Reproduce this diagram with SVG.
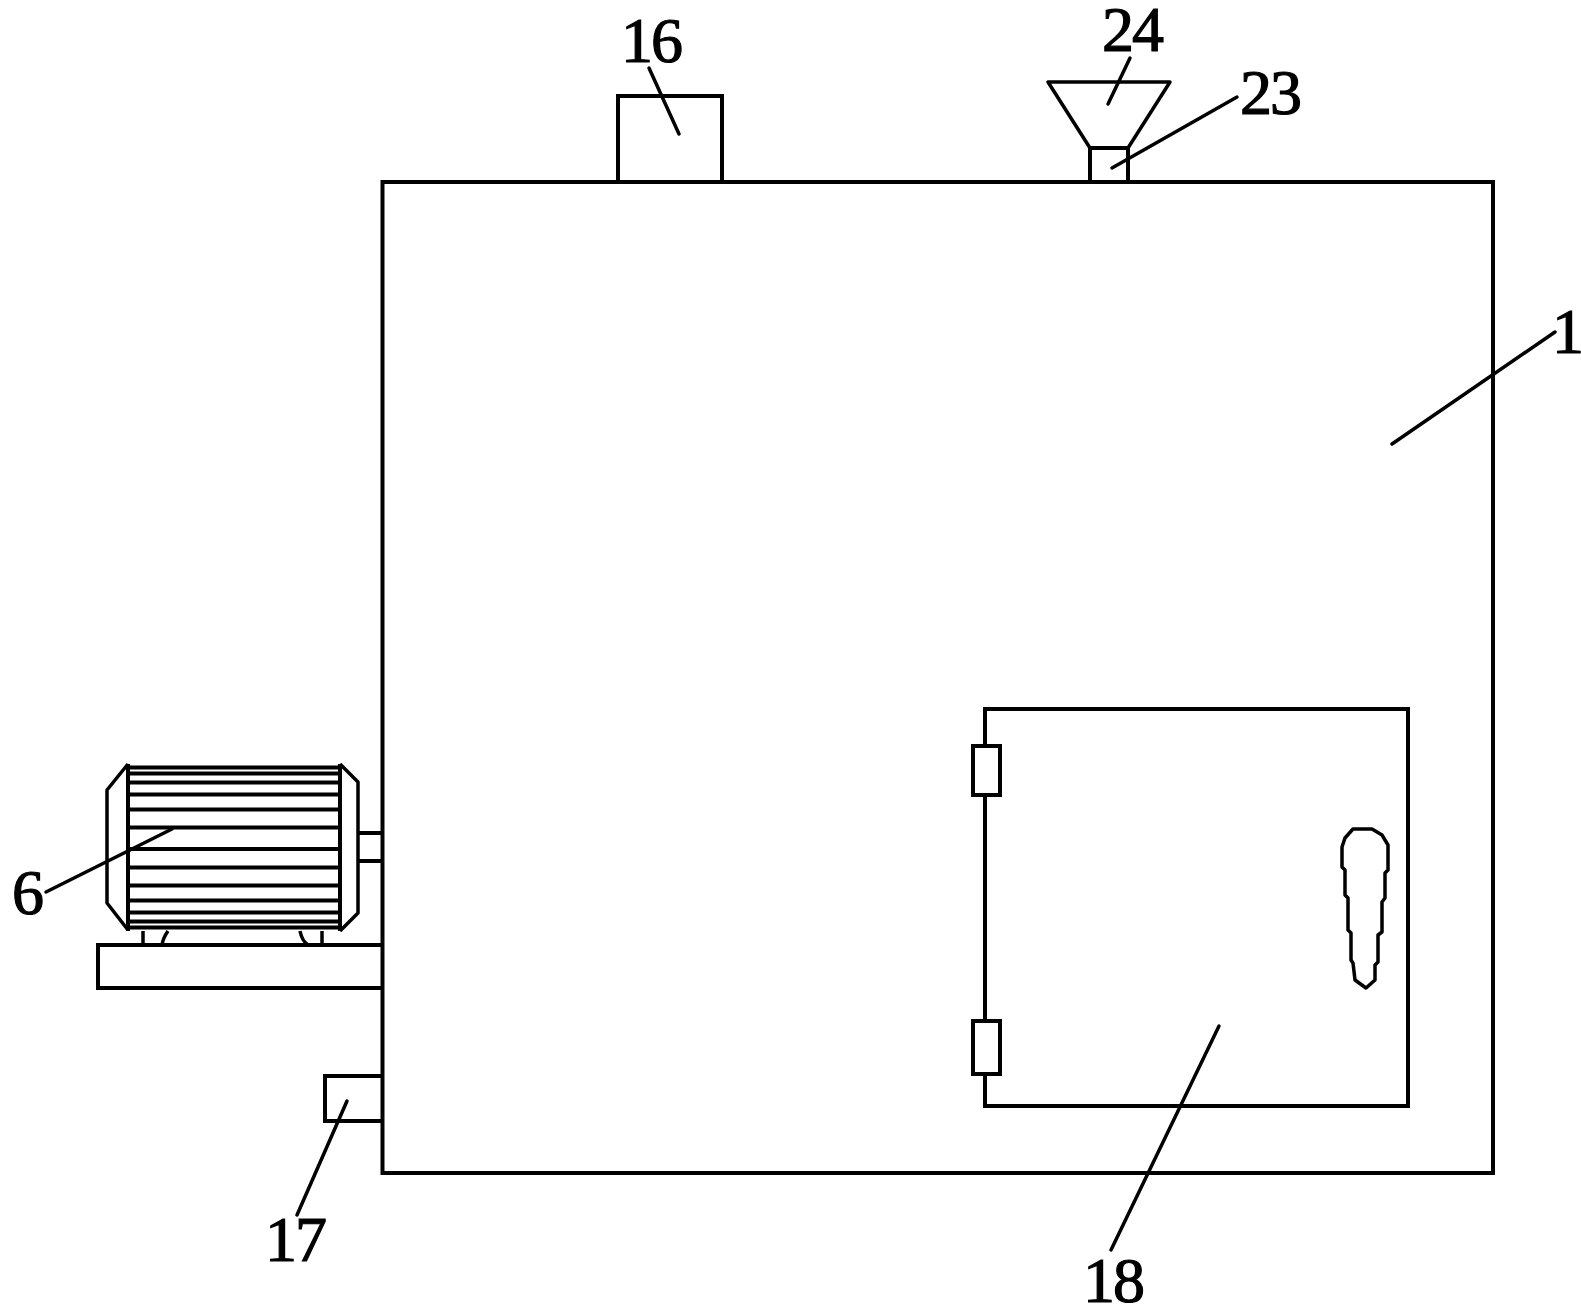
<svg xmlns="http://www.w3.org/2000/svg" width="1581" height="1310" viewBox="0 0 1581 1310">
<style>
.s{fill:none;stroke:#000;stroke-width:4}
.t{fill:none;stroke:#000;stroke-width:3.5;stroke-linejoin:round}
.l{fill:none;stroke:#000;stroke-width:3.5;stroke-linecap:round}
text{font-family:"Liberation Serif",serif;font-size:64px;letter-spacing:-2px;fill:#000;text-anchor:middle;stroke:#000;stroke-width:1.2}
</style>
<rect width="1581" height="1310" fill="#fff"/>
<g id="body"><rect class="s" x="382.500" y="182" width="1110.500" height="991"/></g>
<g id="part16"><path class="s" d="M618 182V96H722V182"/></g>
<g id="part23"><path class="s" d="M1090 182V148H1128V182"/></g>
<g id="part24"><path class="t" d="M1048 82H1170L1128 148H1090Z"/></g>
<g id="motor6">
<path class="t" d="M128 764L107 790V903L128 930M340 764L358 782V913L340 931"/>
<path class="s" d="M128 764V931M340 764V931"/>
<path class="s" d="M128 767.500H340M128 773.500H340M128 782.500H340M128 794.500H340M128 809.500H340M128 827.500H340M128 849H340M128 867.500H340M128 885.500H340M128 900.500H340M128 912.500H340M128 921.500H340M128 927.500H340"/>
<path class="t" d="M143 931V945M168 931Q163 938 162 945M300 931Q302 941 308 945M322 931V945"/>
<path class="s" d="M358 833H383M358 861H383"/>
</g>
<g id="base"><path class="s" d="M383 945H98V988H383"/></g>
<g id="part17"><path class="s" d="M383 1076H325V1121H383"/></g>
<g id="door18">
<path class="s" d="M985 746V709H1408V1106H985V1074M985 795V1021"/>
<rect class="s" x="973" y="746" width="27" height="49"/>
<rect class="s" x="973" y="1021" width="27" height="53"/>
<path class="t" d="M1353 829H1372L1382 835L1388 845V870L1385 873V898L1382 902V932L1378 935V962L1375 965V980L1366 988L1355 980L1353 963L1351 960V933L1348 930V898L1345 895V870L1342 867V847L1345 838Z"/>
</g>
<g id="connectors">
<path class="l" d="M649 68L679 134"/>
<path class="l" d="M1130 58L1108 104"/>
<path class="l" d="M1237 97L1112 168"/>
<path class="l" d="M1392 444L1555 332"/>
<path class="l" d="M46 892L172 829"/>
<path class="l" d="M347 1101L297 1215"/>
<path class="l" d="M1219 1026L1111 1250"/>
</g>
<g id="labels">
<text x="651" y="62">16</text>
<text x="1132" y="51">24</text>
<text x="1270" y="114">23</text>
<text x="1567" y="353">1</text>
<text x="27" y="914">6</text>
<text x="295" y="1261">17</text>
<text x="1113" y="1302">18</text>
</g>
</svg>
